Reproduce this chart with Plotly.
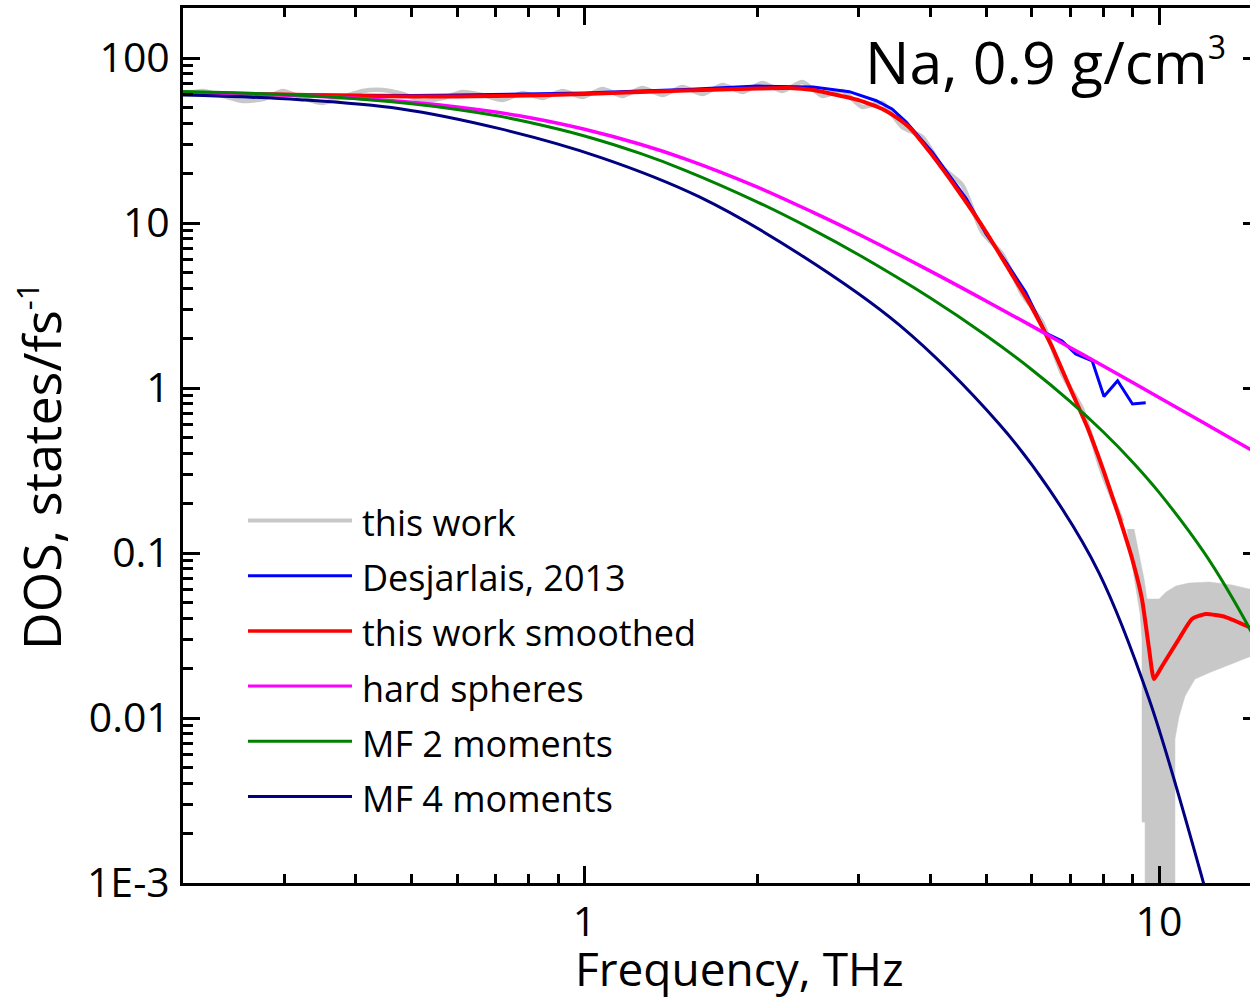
import numpy as np
import plotly.graph_objects as go

# ---------------- data ----------------
# "this work" (raw, noisy) - frequency THz, DOS states/fs^-1
work_f = [0.200, 0.2166, 0.2346, 0.2542, 0.2754, 0.2984, 0.3232, 0.3502, 0.3794, 0.4111,
          0.4453, 0.4825, 0.5228, 0.5663, 0.6136, 0.6648, 0.7202, 0.7803, 0.8453, 0.9158,
          0.9920, 1.075, 1.164, 1.261, 1.367, 1.481, 1.604, 1.738, 1.883, 2.040,
          2.210, 2.394, 2.594, 2.810, 3.045, 3.298, 3.573, 3.871, 4.194, 4.544,
          4.922, 5.333, 5.777, 6.259, 6.781, 7.346, 7.958, 8.622]
work_D = [60.5, 63.1, 58.9, 54.9, 56.4, 63.1, 57.2, 53.4, 58.0, 63.1,
          64.0, 60.5, 54.9, 57.2, 62.2, 59.7, 55.7, 61.4, 57.2, 63.1,
          58.0, 64.9, 58.9, 65.8, 59.7, 66.7, 60.5, 68.6, 62.2, 70.6,
          63.1, 71.5, 58.9, 63.1, 50.5, 53.4, 38.2, 33.2, 21.8, 17.0,
          8.82, 6.49, 3.71, 2.51, 1.22, 0.746, 0.310, 0.156]
# "this work" high-frequency part: envelope of the fast oscillating signal
work_band_f = [8.799, 8.94, 9.12, 9.27, 9.34, 9.34, 9.456, 9.456, 10.66, 10.66, 10.83,
               11.10, 11.55, 12.31, 13.23, 14.34, 15.54, 15.54, 14.34, 13.40, 12.22,
               11.28, 10.70, 10.29, 10.0, 9.53, 9.417, 9.23, 9.046]
work_band_D = [0.1398, 0.0920, 0.0605, 0.0427, 0.0301, 0.00234, 0.00234, 0.0003, 0.0003,
               0.00746, 0.01014, 0.0136, 0.01724, 0.0190, 0.02096, 0.02343, 0.0244, 0.0605,
               0.0605, 0.0640, 0.0667, 0.0658, 0.0631, 0.0580, 0.0526, 0.0526, 0.0696,
               0.0986, 0.1398]

# Desjarlais, 2013
desj_f = [0.2, 0.3, 0.4, 0.5, 0.6, 0.7, 0.8, 1.0, 1.25, 1.5, 2.0, 2.5, 2.89, 3.22, 3.43,
          3.63, 4.03, 4.62, 5.0, 5.4, 5.86, 6.35, 6.78, 7.16, 7.65, 8.02, 8.47, 8.99, 9.48]
desj_D = [60.5, 59.7, 59.3, 59.3, 59.7, 60.1, 60.5, 61.4, 63.1, 64.4, 67.6, 66.7, 62.5, 55.1,
          49.1, 40.9, 26.9, 14.0, 8.58, 5.88, 3.80, 2.15, 1.93, 1.61, 1.46, 0.888, 1.107, 0.80, 0.815]

# this work smoothed
smooth_f = [0.2, 0.3, 0.4, 0.5, 0.6, 0.7, 0.8, 1.0, 1.25, 1.5, 2.0, 2.27, 2.5, 2.75, 3.0, 3.3,
            3.5, 3.7, 4.0, 4.5, 5.0, 5.5, 6.0, 6.5, 7.0, 7.5, 8.0, 8.5, 9.0, 9.34, 9.61, 9.8,
            10.12, 10.83, 11.41, 12.06, 13.06, 14.34]
smooth_D = [61.4, 60.1, 58.9, 58.4, 58.4, 58.9, 59.3, 60.5, 62.2, 63.5, 65.3, 65.8, 64.0, 59.7,
            55.6, 49.1, 43.3, 37.1, 26.6, 15.2, 8.82, 5.12, 3.10, 1.80, 1.00, 0.580, 0.318,
            0.170, 0.0895, 0.0526, 0.0262, 0.0172, 0.0206, 0.0301, 0.0398, 0.0427, 0.0409, 0.0356]

# hard spheres
hs_f = [0.2, 0.3, 0.4, 0.5, 0.6, 0.7, 0.8, 1.0, 1.25, 1.5, 2.0, 2.5, 3.0, 4.0, 5.0, 6.0, 7.0,
        8.0, 10.0, 12.0, 14.0, 15.0]
hs_D = [61.7, 59.7, 57.0, 53.9, 50.5, 47.0, 43.6, 37.0, 30.0, 24.4, 16.5, 11.6, 8.55, 5.11,
        3.37, 2.38, 1.76, 1.36, 0.877, 0.611, 0.450, 0.393]

# MF 2 moments
mf2_f = [0.2, 0.3, 0.4, 0.5, 0.6, 0.7, 0.8, 1.0, 1.25, 1.5, 2.0, 2.5, 3.0, 4.0, 5.0, 6.0, 7.0,
         8.0, 9.0, 10.0, 12.0, 14.0, 15.0]
mf2_D = [62.7, 60.0, 56.7, 52.8, 48.8, 44.8, 40.8, 33.7, 26.4, 20.8, 13.4, 9.09, 6.42, 3.51,
         2.08, 1.295, 0.830, 0.541, 0.355, 0.233, 0.0997, 0.0412, 0.026]

# MF 4 moments
mf4_f = [0.2, 0.3194, 0.477, 0.7115, 1.0619, 1.585, 2.365, 3.53, 5.269, 6.437, 7.865, 9.608,
         11.74, 12.22]
mf4_D = [59.7, 55.9, 49.3, 37.3, 25.1, 14.4, 6.49, 2.41, 0.605, 0.244, 0.0756, 0.01304,
         0.00125, 0.000746]

legend_names = ["this work", "Desjarlais, 2013", "this work smoothed", "hard spheres",
                "MF 2 moments", "MF 4 moments"]

y_tickvals = [1e-3, 1e-2, 1e-1, 1, 10, 100]
y_ticktext = ["1E-3", "0.01", "0.1", "1", "10", "100"]
x_tickvals = [1, 10]
x_ticktext = ["1", "10"]

# ---------------- style ----------------
GRAY = "#c8c8c8"
BLUE = "#0000ff"
RED = "#ff0000"
MAGENTA = "#ff00ff"
GREEN = "#008000"
NAVY = "#000080"
FONT = "Open Sans"

W, H = 1250, 997
PL, PR, PT, PB = 183, 1250, 8, 883   # plot area in pixels


def pxx(xp):
    return (xp - PL) / (PR - PL)


def pyy(yp):
    return (PB - yp) / (PB - PT)


fig = go.Figure()
fig.add_trace(go.Scatter(x=work_band_f, y=work_band_D, mode="lines", fill="toself",
                         fillcolor=GRAY, line=dict(color=GRAY, width=0.5),
                         showlegend=False, hoverinfo="skip"))
fig.add_trace(go.Scatter(x=work_f, y=work_D, mode="lines", name=legend_names[0],
                         line=dict(color=GRAY, width=4.5, shape="spline", smoothing=0.6),
                         showlegend=False))
fig.add_trace(go.Scatter(x=desj_f, y=desj_D, mode="lines", name=legend_names[1],
                         line=dict(color=BLUE, width=3), showlegend=False))
fig.add_trace(go.Scatter(x=smooth_f, y=smooth_D, mode="lines", name=legend_names[2],
                         line=dict(color=RED, width=4, shape="spline", smoothing=0.5),
                         showlegend=False))
fig.add_trace(go.Scatter(x=hs_f, y=hs_D, mode="lines", name=legend_names[3],
                         line=dict(color=MAGENTA, width=3.5, shape="spline", smoothing=1.0),
                         showlegend=False))
fig.add_trace(go.Scatter(x=mf2_f, y=mf2_D, mode="lines", name=legend_names[4],
                         line=dict(color=GREEN, width=3, shape="spline", smoothing=1.0),
                         showlegend=False))
fig.add_trace(go.Scatter(x=mf4_f, y=mf4_D, mode="lines", name=legend_names[5],
                         line=dict(color=NAVY, width=3, shape="spline", smoothing=1.0),
                         showlegend=False))
# empty trace so that the right-hand tick axis exists
fig.add_trace(go.Scatter(x=[], y=[], yaxis="y2", showlegend=False, hoverinfo="skip"))

x_minor = [0.3, 0.4, 0.5, 0.6, 0.7, 0.8, 0.9, 2, 3, 4, 5, 6, 7, 8, 9]
y_minor = [k * 10.0 ** d for d in range(-3, 2) for k in range(2, 10)]
yrange = [-3, 2.303]

fig.update_layout(
    width=W, height=H,
    margin=dict(l=PL, r=W - PR, t=PT, b=H - PB, pad=0),
    paper_bgcolor="white", plot_bgcolor="white",
    font=dict(family=FONT, color="black"),
    showlegend=False,
    xaxis=dict(type="log", range=[np.log10(0.2), np.log10(14.4)],
               showline=True, linewidth=3, linecolor="black", mirror="ticks",
               ticks="inside", ticklen=17, tickwidth=3, tickcolor="black",
               tickvals=x_tickvals, ticktext=x_ticktext,
               tickfont=dict(family=FONT, size=41, color="black"),
               ticklabelstandoff=1,
               showgrid=False, zeroline=False,
               minor=dict(tickvals=x_minor, ticks="inside", ticklen=9, tickwidth=3,
                          tickcolor="black", showgrid=False)),
    yaxis=dict(type="log", range=yrange,
               showline=True, linewidth=3, linecolor="black", mirror=False,
               ticks="inside", ticklen=17, tickwidth=3, tickcolor="black",
               tickvals=y_tickvals, ticktext=y_ticktext,
               tickfont=dict(family=FONT, size=41, color="black"),
               ticklabelstandoff=2,
               showgrid=False, zeroline=False,
               minor=dict(tickvals=y_minor, ticks="inside", ticklen=10, tickwidth=3,
                          tickcolor="black", showgrid=False)),
    yaxis2=dict(type="log", range=yrange, overlaying="y", side="right",
                ticks="inside", ticklen=7, tickwidth=3, tickcolor="black",
                tickvals=y_tickvals, showticklabels=False,
                showline=False, showgrid=False, zeroline=False),
)

annotations = [
    dict(text="Na, 0.9 g/cm<sup><span style='font-size:32px'>3</span></sup>",
         x=pxx(863), y=pyy(61), xref="paper", yref="paper", xanchor="left", yanchor="middle",
         showarrow=False, font=dict(family=FONT, size=59, color="black")),
    dict(text="Frequency, THz", x=pxx(739), y=pyy(968), xref="paper", yref="paper",
         xanchor="center", yanchor="middle", showarrow=False,
         font=dict(family=FONT, size=46, color="black")),
    dict(text="DOS, states/fs<sup><span style='font-size:31px'>-1</span></sup>",
         x=pxx(40), y=pyy(467), xref="paper", yref="paper", textangle=-90,
         xanchor="center", yanchor="middle", showarrow=False,
         font=dict(family=FONT, size=52, color="black")),
]

# legend drawn by hand (long line samples as in the reference)
leg_colors = [GRAY, BLUE, RED, MAGENTA, GREEN, NAVY]
leg_widths = [4, 3, 3.5, 3, 3, 3]
leg_top, leg_step = 520.5, 55.2
shapes = []
for i, name in enumerate(legend_names):
    yrow = leg_top + i * leg_step
    shapes.append(dict(type="line", xref="paper", yref="paper",
                       x0=pxx(248), x1=pxx(352), y0=pyy(yrow), y1=pyy(yrow),
                       line=dict(color=leg_colors[i], width=leg_widths[i])))
    annotations.append(dict(text=name, x=pxx(360), y=pyy(yrow + 2), xref="paper", yref="paper",
                            xanchor="left", yanchor="middle", showarrow=False,
                            font=dict(family=FONT, size=36, color="black")))

fig.update_layout(annotations=annotations, shapes=shapes)
fig.write_html("out.html")
